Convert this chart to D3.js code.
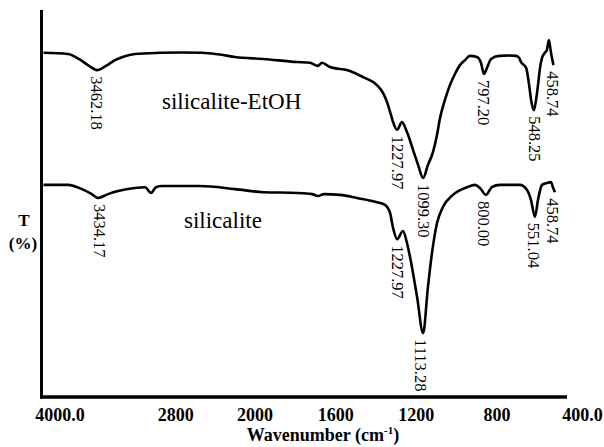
<!DOCTYPE html>
<html>
<head>
<meta charset="utf-8">
<script src="https://cdn.jsdelivr.net/npm/d3@7.9.0/dist/d3.min.js"></script>
<style>
  body { margin: 0; background: #fff; }
  svg { display: block; font-family: "Liberation Serif", "Times New Roman", serif; }
</style>
</head>
<body>
<svg id="chart" width="604" height="447"></svg>
<script>
// wavenumber (cm-1) / transmittance (arb. %)
const etohWave = [4000, 3753, 3631, 3540, 3460, 3369, 3278, 3170, 3076, 2823, 2600, 2399, 2200, 2066,
  1893, 1725, 1660, 1621, 1601, 1561, 1462, 1397, 1328, 1298, 1278, 1258, 1248, 1228, 1204, 1179,
  1149, 1124, 1099, 1075, 1050, 1030, 1015, 991, 966, 941, 916, 891, 867, 832, 812, 797, 782, 762,
  722, 673, 638, 623, 613, 588, 573, 563, 549, 539, 529, 519, 509, 495, 485, 475, 465, 460, 452];
const etohT = [89.4, 89.1, 87.6, 86.0, 84.9, 86.0, 87.5, 88.6, 89.1, 89.4, 89.5, 89.4, 88.9, 88.3,
  87.8, 87.0, 86.8, 86.0, 86.8, 85.7, 84.7, 83.1, 81.0, 79.0, 76.6, 73.2, 71.4, 69.4, 71.4, 68.8,
  64.2, 60.3, 56.9, 60.3, 63.6, 68.1, 72.5, 77.1, 81.0, 83.9, 86.2, 87.5, 88.6, 88.3, 86.8, 83.9, 85.5, 87.8,
  88.6, 88.7, 88.6, 88.1, 87.0, 85.5, 81.0, 77.1, 74.5, 77.1, 81.0, 85.5, 88.1, 89.4, 90.1, 92.7, 89.6, 88.1, 86.2];

const silWave = [4000, 3753, 3611, 3520, 3449, 3348, 3247, 3076, 2975, 2914, 2864, 2803, 2419, 2066,
  1893, 1725, 1650, 1621, 1591, 1511, 1427, 1328, 1288, 1263, 1248, 1228, 1199, 1179, 1164, 1129,
  1099, 1075, 1055, 1030, 1000, 951, 881, 842, 817, 787, 758, 718, 619, 584, 564, 544, 529, 509,
  485, 465, 455, 445];
const silT = [55.1, 55.1, 54.0, 52.8, 51.7, 52.7, 53.5, 54.3, 54.5, 53.0, 54.5, 54.8, 54.8, 54.0,
  53.2, 53.0, 52.7, 52.2, 52.7, 52.5, 51.7, 50.6, 49.9, 47.8, 43.9, 41.0, 43.1, 40.0, 36.4, 26.0,
  16.6, 28.6, 37.4, 45.2, 49.4, 52.5, 54.5, 55.1, 54.3, 52.5, 54.5, 55.1, 55.1, 53.8, 51.2, 46.8, 51.2, 55.1,
  55.6, 55.8, 54.5, 53.2];

const etohPeaks = ['3462.18', '1227.97', '1099.30', '797.20', '548.25', '458.74'];
const silPeaks = ['3434.17', '1227.97', '1113.28', '800.00', '551.04', '458.74'];

const tickValues = [4000, 2800, 2000, 1600, 1200, 800, 400];
const seriesNames = ['silicalite-EtOH', 'silicalite'];

const svg = d3.select('#chart');

// split axis: 4000-2000 at half the scale of 2000-400
const x = d3.scaleLinear().domain([4000, 2000, 400]).range([43.5, 241.5, 564]);
const y = d3.scaleLinear().domain([0, 100]).range([397, 12]);

const line = d3.line()
  .x((d) => x(d[0]))
  .y((d) => y(d[1]))
  .curve(d3.curveMonotoneX);

const series = [
  { name: seriesNames[0], pts: d3.zip(etohWave, etohT), peaks: etohPeaks, lx: 162, ly: 109 },
  { name: seriesNames[1], pts: d3.zip(silWave, silT), peaks: silPeaks, lx: 184, ly: 228 },
];

series.forEach((s) => {
  svg.append('path')
    .datum(s.pts)
    .attr('d', line)
    .attr('fill', 'none')
    .attr('stroke', '#000')
    .attr('stroke-width', 2.6)
    .attr('stroke-linejoin', 'round');

  svg.append('text')
    .attr('x', s.lx)
    .attr('y', s.ly)
    .attr('font-size', 23)
    .text(s.name);

  s.peaks.forEach((p) => {
    const px = x(+p);
    const near = s.pts.filter((d) => Math.abs(x(d[0]) - px) <= 8);
    const top = y(d3.min(near, (d) => d[1])) + 6;
    svg.append('text')
      .attr('transform', `translate(${px},${top}) rotate(90)`)
      .attr('dominant-baseline', 'central')
      .attr('font-size', 16.5)
      .text(p);
  });
});

// axes lines
svg.append('line')
  .attr('x1', 41.5).attr('x2', 41.5)
  .attr('y1', 10).attr('y2', 398.5)
  .attr('stroke', '#000').attr('stroke-width', 3);
svg.append('line')
  .attr('x1', 40).attr('x2', 567)
  .attr('y1', 397).attr('y2', 397)
  .attr('stroke', '#000').attr('stroke-width', 3.5);

// tick labels sit a little right of the data positions in the original
const xLab = d3.scaleLinear().domain(x.domain()).range(x.range().map((r) => r + 13));
const xAxis = d3.axisBottom(xLab)
  .tickValues(tickValues)
  .tickSize(0)
  .tickPadding(0)
  .tickFormat((d) => (d === 4000 || d === 400 ? d.toFixed(1) : String(d)));

const gx = svg.append('g')
  .attr('transform', 'translate(0,408)')
  .call(xAxis);
gx.select('.domain').remove();
gx.selectAll('text')
  .attr('font-family', '"Liberation Serif", "Times New Roman", serif')
  .attr('font-size', 18)
  .attr('font-weight', 'bold')
  .attr('fill', '#000')
  .attr('dx', (d) => (d === 4000 ? 3 : d === 400 ? 5 : 0));

const xTitle = svg.append('text')
  .attr('x', 323)
  .attr('y', 441)
  .attr('text-anchor', 'middle')
  .attr('font-size', 18)
  .attr('font-weight', 'bold');
xTitle.append('tspan').text('Wavenumber (cm');
xTitle.append('tspan').attr('font-size', 11).attr('dy', -7).text('-1');
xTitle.append('tspan').attr('dy', 7).text(')');

svg.append('text')
  .attr('x', 24).attr('y', 226)
  .attr('text-anchor', 'middle')
  .attr('font-size', 17).attr('font-weight', 'bold')
  .text('T');
svg.append('text')
  .attr('x', 23).attr('y', 249)
  .attr('text-anchor', 'middle')
  .attr('font-size', 17).attr('font-weight', 'bold')
  .text('(%)');
</script>
</body>
</html>
